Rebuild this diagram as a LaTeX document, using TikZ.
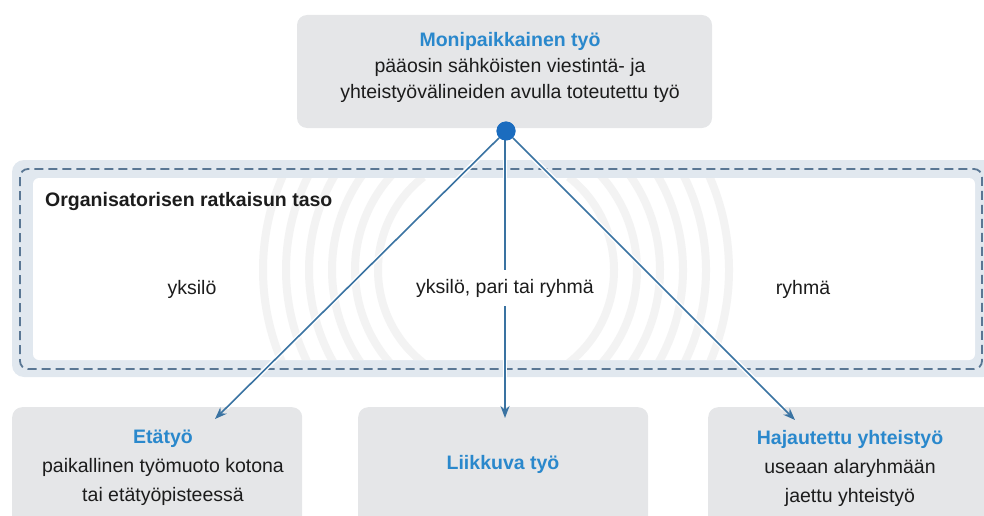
\documentclass[tikz,border=0pt]{standalone}
\usepackage{fontspec}
\setmainfont{Liberation Sans}
\usetikzlibrary{arrows.meta,calc}
\definecolor{boxgray}{HTML}{E5E6E8}
\definecolor{titleblue}{HTML}{2A88CC}
\definecolor{txtcol}{HTML}{1C1C1C}
\definecolor{dotblue}{HTML}{1B6CBF}
\definecolor{arrcol}{HTML}{3A73A2}
\definecolor{bandblue}{HTML}{E1E8EF}
\definecolor{dashcol}{HTML}{5A7794}
\definecolor{arccol}{HTML}{F3F3F3}
\begin{document}
\begin{tikzpicture}[x=1pt,y=-1pt,
  graybox/.style={fill=boxgray, draw=none, rounded corners=10pt, inner sep=0pt},
  txt/.style={text=txtcol, inner sep=0pt, font=\fontsize{19.5}{26}\selectfont},
  ttl/.style={text=titleblue, inner sep=0pt, font=\fontsize{19.5}{26}\selectfont\bfseries},
  dotstyle/.style={circle, fill=dotblue, minimum size=19pt, inner sep=0pt},
  arr/.style={draw=arrcol, line width=1.6pt, -{Stealth[length=12pt,width=9pt]},
    preaction={draw=white, line width=4.5pt, -, shorten >=16pt}}
]
\useasboundingbox (0,0) rectangle (984,516);
\clip (0,0) rectangle (984,516);

% top box
\node[graybox, minimum width=415pt, minimum height=113pt] (topbox) at (504.5,71.5) {};
\node[txt, align=center] (toptext) at (510,67)
  {{\color{titleblue}\bfseries Monipaikkainen työ}\\pääosin sähköisten viestintä- ja\\yhteistyövälineiden avulla toteutettu työ};

% band
\fill[bandblue, rounded corners=12pt] (12,160) rectangle (995,377);
\draw[dashcol, line width=1.8pt, dash pattern=on 9pt off 5pt, rounded corners=8pt] (20,169) rectangle (982,369);
\fill[white, rounded corners=6pt] (33,178) rectangle (975,360);

% faint rings
\begin{scope}
  \clip[rounded corners=6pt] (33,178) rectangle (975,360);
  \coordinate (ringc) at (496,270);
  \foreach \r in {118,141,164,187,210,233}{
    \draw[arccol, line width=8pt] (ringc) ++(-52:\r pt) arc[start angle=-52, end angle=52, radius=\r pt];
    \draw[arccol, line width=8pt] (ringc) ++(128:\r pt) arc[start angle=128, end angle=232, radius=\r pt];
  }
\end{scope}

\node[txt, anchor=west, font=\fontsize{19.5}{26}\selectfont\bfseries] (orglabel) at (45,201) {Organisatorisen ratkaisun taso};
\node[txt] (yksilo) at (192,289) {yksilö};
\node[txt] (ryhma) at (803,289) {ryhmä};

% bottom boxes
\node[graybox, minimum width=290pt, minimum height=130pt, anchor=north west] (etabox) at (12,407) {};
\node[graybox, minimum width=290pt, minimum height=130pt, anchor=north west] (liikbox) at (358,407) {};
\node[graybox, minimum width=300pt, minimum height=130pt, anchor=north west] (hajbox) at (708,407) {};

\node[txt, align=center, font=\fontsize{19.5}{29}\selectfont] (etatext) at (163,468)
  {{\color{titleblue}\bfseries Etätyö}\\paikallinen työmuoto kotona\\tai etätyöpisteessä};
\node[ttl] (liiktext) at (503,464) {Liikkuva työ};
\node[txt, align=center, font=\fontsize{19.5}{29}\selectfont] (hajtext) at (850,468)
  {{\color{titleblue}\bfseries Hajautettu yhteistyö}\\useaan alaryhmään\\jaettu yhteistyö};

% dot and arrows
\node[dotstyle] (dot) at (506,131) {};
\coordinate (tipL) at (215,419);
\coordinate (tipM) at (505,418);
\coordinate (tipR) at (795,420);
\coordinate (dotb) at (505,138);
\draw[arr] (dot) -- (tipL);
\draw[arr] (dotb) -- (tipM);
\draw[arr] (dot) -- (tipR);
\node[dotstyle] (dottop) at (506,131) {};

\node[txt, fill=white, inner xsep=3pt, inner ysep=9pt] (mixtext) at (505,288) {yksilö, pari tai ryhmä};
\end{tikzpicture}
\end{document}
